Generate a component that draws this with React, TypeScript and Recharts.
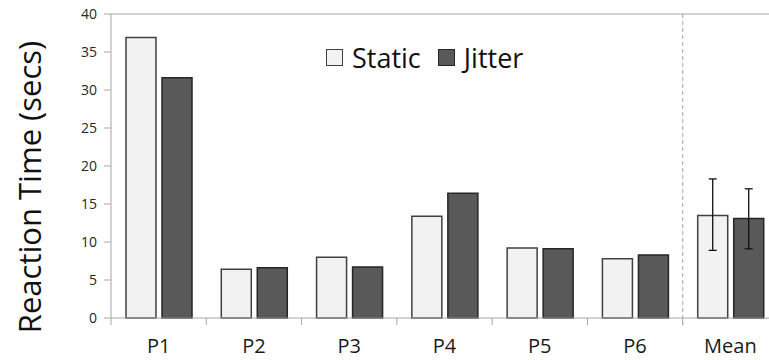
import React from 'react';
import { BarChart, Bar, XAxis, YAxis, ErrorBar, ReferenceLine, Legend, Label } from 'recharts';

const categories = ['P1', 'P2', 'P3', 'P4', 'P5', 'P6', 'Mean'];
const staticVals = [36.9, 6.4, 8.0, 13.4, 9.2, 7.8, 13.5];
const jitterVals = [31.6, 6.6, 6.7, 16.4, 9.1, 8.3, 13.1];
// [below, above] only for the Mean group
const staticErr: (number[] | null)[] = [null, null, null, null, null, null, [4.6, 4.8]];
const jitterErr: (number[] | null)[] = [null, null, null, null, null, null, [4.0, 3.9]];
const yTicks = [0, 5, 10, 15, 20, 25, 30, 35, 40];

const data = categories.map((name, i) => ({
  name,
  Static: staticVals[i],
  Jitter: jitterVals[i],
  staticErr: staticErr[i],
  jitterErr: jitterErr[i],
}));

const CHART_W = 790;
const CHART_H = 360;
const PLOT_LEFT = 111;
const PLOT_TOP = 14;
const PLOT_RIGHT = 12;
const AXIS_H = 42;
const AXIS_Y = CHART_H - AXIS_H;
const BAND = (CHART_W - PLOT_LEFT - PLOT_RIGHT) / categories.length;
const GRID = '#a6a6a6';
const FONT = '"Open Sans", sans-serif';

const CategoryTick = (props: any) => {
  const { x, index, payload } = props;
  const edge = x - BAND / 2;
  return (
    <g>
      <line x1={edge} y1={AXIS_Y} x2={edge} y2={AXIS_Y + 7} stroke={GRID} strokeWidth={1} />
      {index === categories.length - 1 && (
        <line x1={edge} y1={PLOT_TOP} x2={edge} y2={AXIS_Y + 7} stroke={GRID} strokeWidth={1} strokeDasharray="4 3" />
      )}
      <text x={x} y={AXIS_Y + 35} textAnchor="middle" fontSize={20} fill="#1a1a1a" fontFamily={FONT}>
        {payload.value}
      </text>
    </g>
  );
};

// y title sits a bit lower than the plot's middle in the original
const YTitle = () => (
  <text
    x={29}
    y={187}
    transform="rotate(-90 29 187)"
    textAnchor="middle"
    dominantBaseline="central"
    fontSize={31}
    fill="#111"
    fontFamily={FONT}
  >
    Reaction Time (secs)
  </text>
);

const LegendBox = () => (
  <div style={{ display: 'flex', alignItems: 'center', fontFamily: FONT, fontSize: 27, color: '#111', lineHeight: 1 }}>
    <span style={{ width: 15, height: 15, background: '#f2f2f2', border: '1.5px solid #404040', marginRight: 9 }} />
    <span style={{ marginRight: 17 }}>Static</span>
    <span style={{ width: 15, height: 15, background: '#595959', border: '1.5px solid #262626', marginRight: 9 }} />
    <span>Jitter</span>
  </div>
);

export default function App() {
  return (
    <div style={{ position: 'absolute', left: 0, top: 0, width: 769, height: 360, overflow: 'hidden', background: '#fff', fontFamily: FONT }}>
      <BarChart
        width={CHART_W}
        height={CHART_H}
        data={data}
        margin={{ top: PLOT_TOP, right: PLOT_RIGHT, left: 0, bottom: 0 }}
        barSize={30}
        barGap={6}
      >
        <XAxis
          dataKey="name"
          height={AXIS_H}
          stroke={GRID}
          tickLine={false}
          tick={<CategoryTick />}
          interval={0}
        />
        <YAxis
          width={PLOT_LEFT}
          domain={[0, 40]}
          ticks={yTicks}
          interval={0}
          stroke={GRID}
          tickSize={7}
          tickMargin={7}
          tick={{ fill: '#262626', fontSize: 14, fontFamily: FONT }}
        >
          <Label content={<YTitle />} />
        </YAxis>
        <ReferenceLine y={40} stroke={GRID} strokeWidth={1} ifOverflow="visible" />
        <Legend
          layout="horizontal"
          align="center"
          verticalAlign="middle"
          content={<LegendBox />}
          wrapperStyle={{ left: 326, top: 44, width: 'auto' }}
        />
        <Bar dataKey="Static" fill="#f2f2f2" stroke="#404040" strokeWidth={1.5} isAnimationActive={false}>
          <ErrorBar dataKey="staticErr" width={4} stroke="#111" strokeWidth={1.3} direction="y" />
        </Bar>
        <Bar dataKey="Jitter" fill="#595959" stroke="#262626" strokeWidth={1.5} isAnimationActive={false}>
          <ErrorBar dataKey="jitterErr" width={4} stroke="#111" strokeWidth={1.3} direction="y" />
        </Bar>
      </BarChart>
    </div>
  );
}
